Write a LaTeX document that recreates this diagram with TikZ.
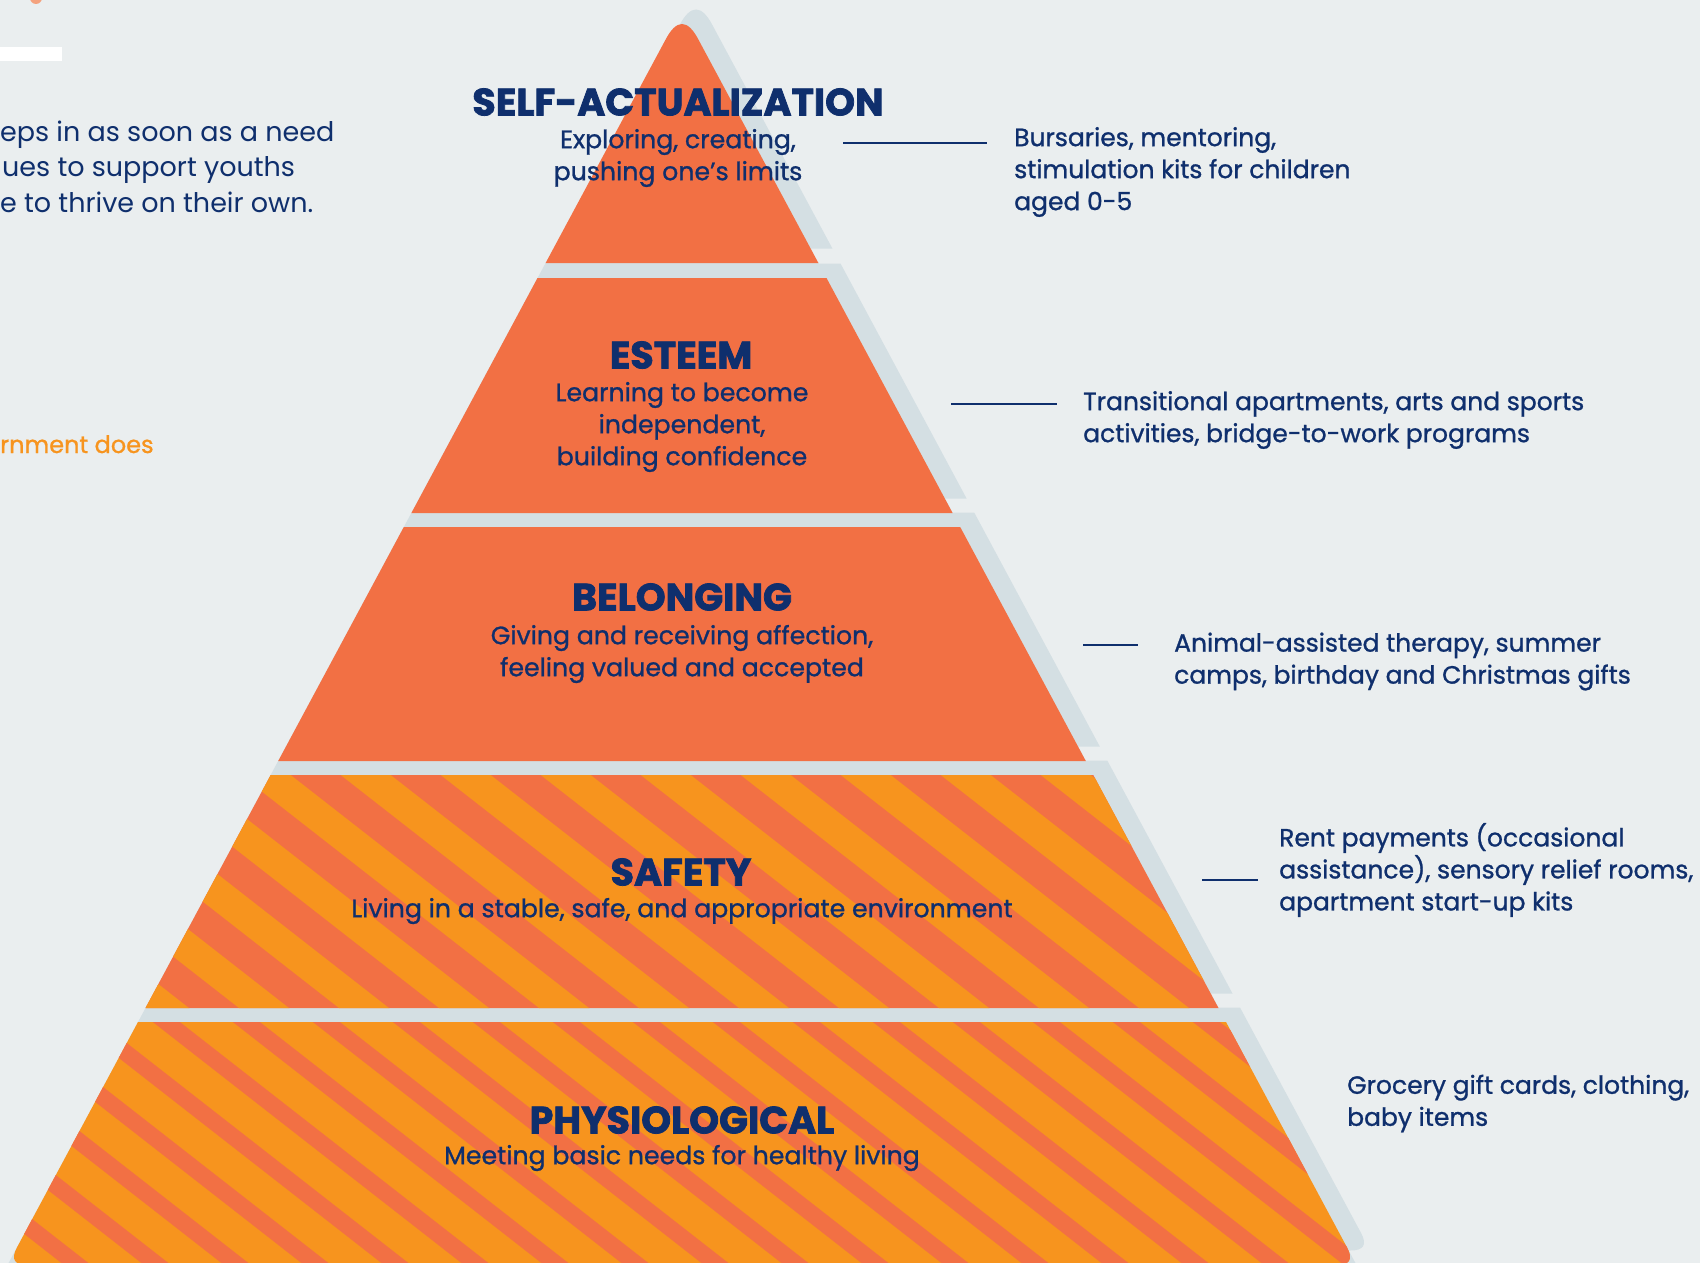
\documentclass[tikz,border=0pt]{standalone}
\usepackage{fontspec}
\setmainfont{Poppins}
\newfontfamily\regfont{Poppins}
\newfontfamily\medfont{Poppins}[FakeBold=1.0]
\newfontfamily\ttlfont{Poppins}[FakeBold=2.0]
\definecolor{bgc}{HTML}{EAEEEF}
\definecolor{shadowgray}{HTML}{D4DFE3}
\definecolor{coral}{HTML}{F27044}
\definecolor{amber}{HTML}{F7941E}
\definecolor{navy}{HTML}{0F2F6D}
\definecolor{blob}{HTML}{F4A27E}
\begin{document}
\begin{tikzpicture}[x=1pt,y=-1pt,
  ttl/.style={font=\ttlfont\bfseries\fontsize{38}{38}\selectfont, text=navy, inner sep=0pt},
  sub/.style={font=\medfont\fontsize{25.2}{32}\selectfont, text=navy, align=center, inner sep=0pt},
  lab/.style={font=\medfont\fontsize{25}{32}\selectfont, text=navy, align=left, inner sep=0pt, anchor=west},
  para/.style={font=\regfont\fontsize{27}{35}\selectfont, text=navy, inner sep=0pt, anchor=base west},
  leader/.style={draw=navy, line width=1.8pt}]
\useasboundingbox (0,0) rectangle (1700,1263);
\fill[bgc] (0,0) rectangle (1700,1263);
\clip (0,0) rectangle (1700,1263);

% small decorations top-left
\fill[white] (0,47) rectangle (62,61);
\fill[blob] (36,-2) circle (6);

% gray underlay filling gaps between layers
\fill[shadowgray] (545.6,263) -- (818.4,263) -- (1356.5,1265) -- (7.5,1265) -- cycle;

% shadows (each layer shifted right and up)
\begin{scope}[shift={(14,-14.5)}]
  \fill[shadowgray] (545.6,263) -- (665.9,39) .. controls (676.6,19) and (687.4,19) .. (698.1,39) -- (818.4,263) -- cycle;
  \fill[shadowgray] (537.5,278) -- (826.5,278) -- (952.6,513) -- (411.4,513) -- cycle;
  \fill[shadowgray] (403.8,527) -- (960.2,527) -- (1085.8,761) -- (278.2,761) -- cycle;
  \fill[shadowgray] (270.7,775) -- (1093.3,775) -- (1218.5,1008) -- (145.5,1008) -- cycle;
  \fill[shadowgray] (138,1022) -- (1226,1022) -- (1347,1247.4) .. controls (1353.3,1259.1) and (1349.8,1265) .. (1336.5,1265)
     -- (27.5,1265) .. controls (14.2,1265) and (10.67,1259.1) .. (17,1247.4) -- cycle;
\end{scope}

% layer 1 - self-actualization
\fill[coral] (545.6,263) -- (665.9,39) .. controls (676.6,19) and (687.4,19) .. (698.1,39) -- (818.4,263) -- cycle;
% layer 2 - esteem
\fill[coral] (537.5,278) -- (826.5,278) -- (952.6,513) -- (411.4,513) -- cycle;
% layer 3 - belonging
\fill[coral] (403.8,527) -- (960.2,527) -- (1085.8,761) -- (278.2,761) -- cycle;
% layer 4 - safety (striped)
\begin{scope}
  \clip (270.7,775) -- (1093.3,775) -- (1218.5,1008) -- (145.5,1008) -- cycle;
  \fill[coral] (100,765) rectangle (1250,1020);
  \foreach \k in {-7,...,10} {
    \fill[amber] ({-651.7+100*\k+765/0.781},765) -- ({-601.7+100*\k+765/0.781},765)
      -- ({-601.7+100*\k+1020/0.781},1020) -- ({-651.7+100*\k+1020/0.781},1020) -- cycle;
  }
\end{scope}
% layer 5 - physiological (striped)
\begin{scope}
  \clip (138,1022) -- (1226,1022) -- (1347,1247.4) .. controls (1353.3,1259.1) and (1349.8,1265) .. (1336.5,1265)
     -- (27.5,1265) .. controls (14.2,1265) and (10.67,1259.1) .. (17,1247.4) -- cycle;
  \fill[amber] (0,1010) rectangle (1400,1280);
  \foreach \k in {-10,...,15} {
    \fill[coral] ({-995.8+80*\k+1010/0.781},1010) -- ({-968.8+80*\k+1010/0.781},1010)
      -- ({-968.8+80*\k+1280/0.781},1280) -- ({-995.8+80*\k+1280/0.781},1280) -- cycle;
  }
\end{scope}

% left partial paragraph
\node[para] (p1) at (0,141.7) {eps in as soon as a need};
\node[para] (p2) at (2,176.7) {ues to support youths};
\node[para] (p3) at (0,212.5) {e to thrive on their own.};
\node[para, font=\medfont\fontsize{24}{30}\selectfont, text=amber] (p4) at (0,453) {rnment does};

% titles
\node[ttl] (t1) at (678,102) {SELF-ACTUALIZATION};
\node[ttl] (t2) at (681,355) {ESTEEM};
\node[ttl] (t3) at (682,597) {BELONGING};
\node[ttl] (t4) at (681,872) {SAFETY};
\node[ttl] (t5) at (682,1120) {PHYSIOLOGICAL};

% subtitles
\node[sub] (s1) at (678,158) {Exploring, creating,\\pushing one’s limits};
\node[sub] (s2) at (682,427) {Learning to become\\independent,\\building confidence};
\node[sub] (s3) at (682,654) {Giving and receiving affection,\\feeling valued and accepted};
\node[sub] (s4) at (682,911) {Living in a stable, safe, and appropriate environment};
\node[sub] (s5) at (682,1158) {Meeting basic needs for healthy living};

% right labels
\node[lab] (r1) at (1014,172) {Bursaries, mentoring,\\stimulation kits for children\\aged 0-5};
\node[lab] (r2) at (1083,420) {Transitional apartments, arts and sports\\activities, bridge-to-work programs};
\node[lab] (r3) at (1174,661.5) {Animal-assisted therapy, summer\\camps, birthday and Christmas gifts};
\node[lab] (r4) at (1279,870) {Rent payments (occasional\\assistance), sensory relief rooms,\\apartment start-up kits};
\node[lab] (r5) at (1347,1103.5) {Grocery gift cards, clothing,\\baby items};

% leader lines
\coordinate (a1) at (843,143); \coordinate (b1) at (987,143);
\coordinate (a2) at (951,404); \coordinate (b2) at (1057,404);
\coordinate (a3) at (1083,645); \coordinate (b3) at (1138,645);
\coordinate (a4) at (1202,880); \coordinate (b4) at (1258,880);
\draw[leader] (a1) -- (b1);
\draw[leader] (a2) -- (b2);
\draw[leader] (a3) -- (b3);
\draw[leader] (a4) -- (b4);
\end{tikzpicture}
\end{document}
